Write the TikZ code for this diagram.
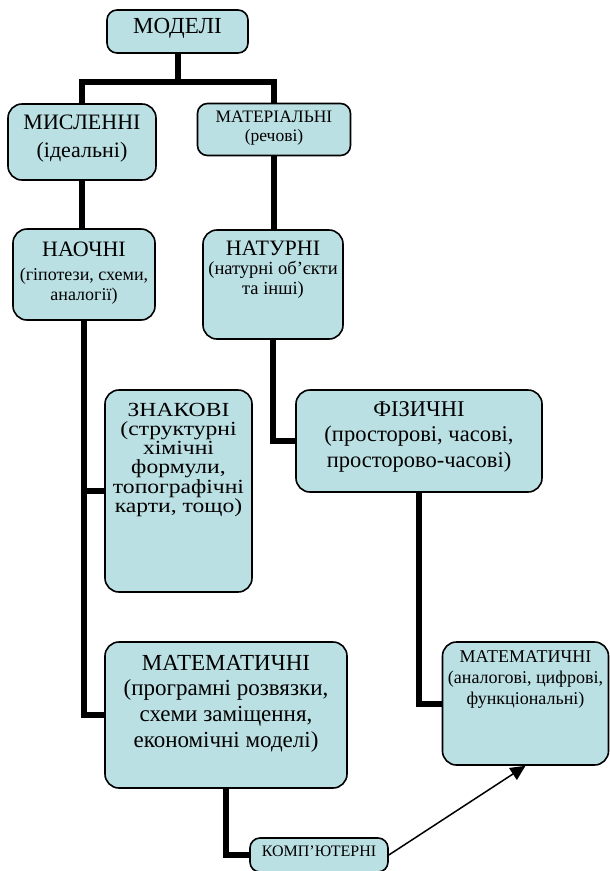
\documentclass[tikz,border=0pt]{standalone}
\usepackage{fontspec}
\setmainfont{Liberation Serif}
\newfontfamily\wideserif[FakeStretch=1.18]{Liberation Serif}
\usepackage{tikz}
\usetikzlibrary{positioning, arrows.meta, calc}
\definecolor{boxblue}{RGB}{187,224,227}
\newcommand{\fsz}[2]{\fontsize{#1}{#2}\selectfont}
\newcommand{\boxlines}[1]{\begin{tabular}[t]{@{}c@{}}#1\end{tabular}}

\begin{document}
\begin{tikzpicture}[
    x=1pt, y=-1pt,
    every node/.style={inner sep=0pt},
    box/.style={draw, line width=1.6pt, rounded corners=14pt, fill=boxblue},
    small box/.style={box, rounded corners=10pt},
    intext/.style={anchor=base, text=black},
    link/.style={line width=6pt},
    arrow link/.style={line width=1.5pt, -{Triangle[length=15pt, width=14pt]}}
]
    \useasboundingbox (0,0) rectangle (610,871);

    % Boxes
    \node[small box, minimum width=141pt, minimum height=43pt,
        label={[intext, yshift=-24pt, font=\fsz{23}{26}]north:МОДЕЛІ}] (modeli) at (177.5,31.5) {};
    \node[box, minimum width=148pt, minimum height=76pt,
        label={[intext, yshift=-26pt, font=\fsz{22}{28}]north:{\boxlines{МИСЛЕННІ\\(ідеальні)}}}] (myslenni) at (82,142) {};
    \node[small box, minimum width=153pt, minimum height=52pt,
        label={[intext, yshift=-19.5pt, font=\fsz{17.5}{19}]north:{\boxlines{МАТЕРІАЛЬНІ\\(речові)}}}] (materialni) at (274,129.5) {};
    \node[box, minimum width=142pt, minimum height=91pt,
        label={[intext, yshift=-28pt, font=\fsz{18}{20}]north:{\boxlines{\fsz{22}{20}НАОЧНІ\\[4pt](гіпотези, схеми,\\аналогії)}}}] (naochni) at (84,274.5) {};
    \node[box, minimum width=140pt, minimum height=109pt,
        label={[intext, yshift=-26pt, font=\fsz{18.5}{19.5}]north:{\boxlines{\fsz{22}{19.5}НАТУРНІ\\(натурні об’єкти\\та інші)}}}] (naturni) at (273,284.5) {};
    \node[box, minimum width=147pt, minimum height=202pt,
        label={[intext, yshift=-27pt, font=\wideserif\fsz{20}{18.3}]north:{\boxlines{ЗНАКОВІ\\(структурні\\хімічні\\формули,\\топографічні\\карти, тощо)}}}] (znak) at (178.5,491) {};
    \node[box, minimum width=246pt, minimum height=102pt,
        label={[intext, yshift=-27pt, font=\fsz{22.5}{25.5}]north:{\boxlines{ФІЗИЧНІ\\(просторові, часові,\\просторово-часові)}}}] (fiz) at (419,441) {};
    \node[box, minimum width=242pt, minimum height=146pt,
        label={[intext, yshift=-29pt, font=\fsz{23}{25.7}]north:{\boxlines{МАТЕМАТИЧНІ\\(програмні розвязки,\\схеми заміщення,\\економічні моделі)}}}] (matl) at (226,715) {};
    \node[box, minimum width=166pt, minimum height=123pt,
        label={[intext, yshift=-21pt, font=\fsz{18}{21}]north:{\boxlines{МАТЕМАТИЧНІ\\(аналогові, цифрові,\\функціональні)}}}] (matr) at (525.5,703.5) {};
    \node[small box, minimum width=138pt, minimum height=34pt,
        label={[intext, yshift=-19pt, font=\fsz{16}{18}]north:КОМП’ЮТЕРНІ}] (komp) at (319,855) {};

    % Connectors
    \coordinate (split) at (177.5,82);
    \draw[link] (modeli) -- (split);
    \draw[link] (myslenni) |- (split) -| (materialni);
    \draw[link] (myslenni.south) -- (myslenni.south |- naochni.north);
    \draw[link] (materialni.south) -- (materialni.south |- naturni.north);
    \draw[link] (naochni.south) |- (matl.west);
    \draw[link] (naochni.south |- znak.west) -- (znak.west);
    \draw[link] (naturni.south) |- (fiz.west);
    \draw[link] (fiz.south) |- (matr.west);
    \draw[link] (matl.south) |- (komp.west);
    \draw[arrow link] (komp.east) -- (matr.south);
\end{tikzpicture}
\end{document}
